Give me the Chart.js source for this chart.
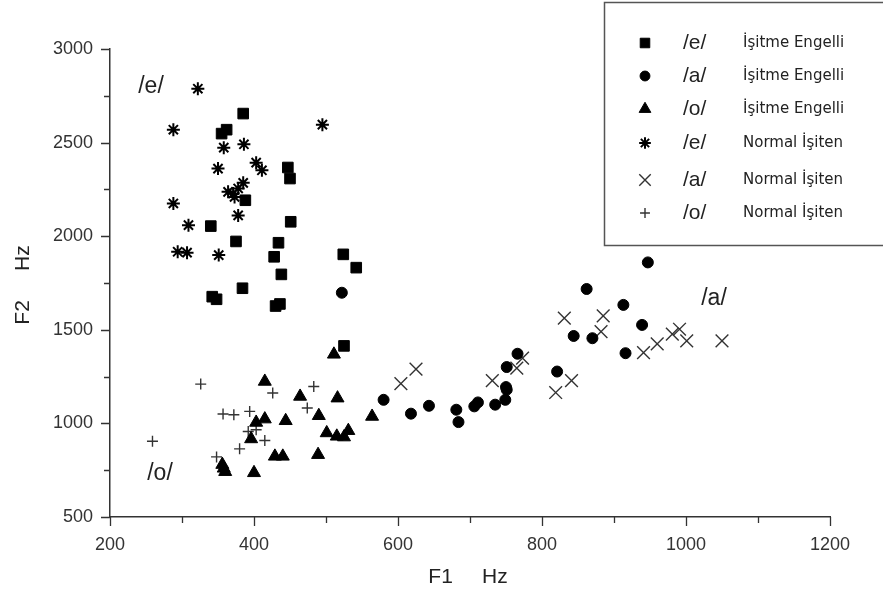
<!DOCTYPE html>
<html>
<head>
<meta charset="utf-8">
<script src="https://cdn.jsdelivr.net/npm/chart.js@4/dist/chart.umd.min.js"></script>
<style>
  body { margin: 0; background: #fff; }
  canvas { display: block; }
</style>
</head>
<body>
<canvas id="formantChart" width="883" height="592"></canvas>
<script>
// F1 / F2 (Hz)
const eHI_F1 = [385, 362, 355, 447, 450, 388, 451, 340, 375, 434, 428, 524, 542, 438, 384, 342, 348, 430, 436, 525];
const eHI_F2 = [2655, 2569, 2548, 2367, 2308, 2192, 2077, 2054, 1972, 1965, 1890, 1903, 1832, 1796, 1722, 1677, 1663, 1627, 1638, 1414];

const aHI_F1 = [522, 580, 618, 643, 681, 684, 706, 711, 735, 749, 751, 750, 751, 766, 821, 844, 870, 862, 913, 939, 916, 947];
const aHI_F2 = [1698, 1126, 1052, 1094, 1073, 1007, 1091, 1112, 1100, 1126, 1180, 1194, 1301, 1372, 1277, 1467, 1455, 1718, 1633, 1526, 1375, 1860];

const oHI_F1 = [511, 415, 464, 516, 564, 490, 444, 415, 403, 396, 501, 515, 525, 531, 429, 440, 489, 356, 358, 360, 400];
const oHI_F2 = [1369, 1224, 1144, 1135, 1037, 1041, 1014, 1023, 1005, 917, 949, 931, 927, 961, 824, 824, 833, 780, 760, 742, 736];

const eNH_F1 = [322, 288, 495, 358, 386, 350, 403, 411, 385, 364, 371, 378, 373, 288, 378, 309, 294, 307, 351];
const eNH_F2 = [2788, 2569, 2596, 2473, 2491, 2361, 2393, 2352, 2285, 2237, 2228, 2255, 2210, 2175, 2111, 2059, 1917, 1912, 1899];

const aNH_F1 = [604, 625, 731, 765, 773, 819, 841, 831, 885, 882, 941, 960, 981, 991, 1001, 1050];
const aNH_F2 = [1212, 1290, 1229, 1295, 1349, 1165, 1229, 1562, 1574, 1490, 1378, 1425, 1477, 1503, 1441, 1441];

const oNH_F1 = [259, 326, 426, 483, 474, 357, 372, 394, 392, 403, 415, 380, 348];
const oNH_F2 = [905, 1210, 1162, 1197, 1082, 1050, 1046, 1064, 957, 966, 909, 864, 821];

const vowels = ['/e/', '/a/', '/o/', '/e/', '/a/', '/o/'];
const groups = ['İşitme Engelli', 'İşitme Engelli', 'İşitme Engelli', 'Normal İşiten', 'Normal İşiten', 'Normal İşiten'];

const xTicks = [200, 400, 600, 800, 1000, 1200];
const yTicks = [500, 1000, 1500, 2000, 2500, 3000];

const toPoints = (xs, ys) => xs.map((x, i) => ({ x: x, y: ys[i] }));

const axisColor = '#333';
const tickFont = { family: '"Liberation Sans", Arial, sans-serif', size: 18 };

// puntos de cada serie
const markerStyles = [
    { pointStyle: 'rect', radius: 7.5, borderWidth: 1, color: '#000' },
    { pointStyle: 'circle', radius: 5.5, borderWidth: 1, color: '#000' },
    { pointStyle: 'triangle', radius: 7.5, borderWidth: 1, color: '#000' },
    { pointStyle: 'star', radius: 6.5, borderWidth: 2, color: '#000' },
    { pointStyle: 'crossRot', radius: 9, borderWidth: 1.4, color: '#333' },
    { pointStyle: 'cross', radius: 5.5, borderWidth: 1.4, color: '#333' }
];

const seriesData = [
    toPoints(eHI_F1, eHI_F2),
    toPoints(aHI_F1, aHI_F2),
    toPoints(oHI_F1, oHI_F2),
    toPoints(eNH_F1, eNH_F2),
    toPoints(aNH_F1, aNH_F2),
    toPoints(oNH_F1, oNH_F2)
];

const datasets = seriesData.map((data, i) => ({
    label: vowels[i] + ' ' + groups[i],
    data: data,
    pointStyle: markerStyles[i].pointStyle,
    pointRadius: markerStyles[i].radius,
    pointBorderWidth: markerStyles[i].borderWidth,
    backgroundColor: markerStyles[i].color,
    borderColor: markerStyles[i].color
}));

// ticks mayores y menores hacia afuera
const axisTicksPlugin = {
    id: 'axisTicks',
    afterDraw(chart) {
        const ctx = chart.ctx;
        const xs = chart.scales.x;
        const ys = chart.scales.y;
        ctx.save();
        ctx.strokeStyle = axisColor;
        ctx.lineWidth = 1.3;
        ctx.beginPath();
        for (let v = 500; v <= 3000; v += 250) {
            const py = Math.round(ys.getPixelForValue(v)) + 0.5;
            const len = v % 500 === 0 ? 9 : 6;
            ctx.moveTo(ys.right - len, py);
            ctx.lineTo(ys.right, py);
        }
        for (let v = 200; v <= 1200; v += 100) {
            const px = Math.round(xs.getPixelForValue(v)) + 0.5;
            const len = v % 200 === 0 ? 9 : 6;
            ctx.moveTo(px, xs.top);
            ctx.lineTo(px, xs.top + len);
        }
        ctx.stroke();
        ctx.restore();
    }
};

// títulos de ejes y etiquetas de vocales
const labelsPlugin = {
    id: 'vowelLabels',
    afterDraw(chart) {
        const ctx = chart.ctx;
        ctx.save();
        ctx.fillStyle = '#222';
        ctx.textAlign = 'center';
        ctx.textBaseline = 'middle';
        ctx.font = '23px "Liberation Sans"';
        ctx.fillText('/e/', 151, 87);
        ctx.fillText('/o/', 160, 474);
        ctx.fillText('/a/', 714, 299);

        ctx.font = '21px "Liberation Sans"';
        ctx.fillText('F1     Hz', 468, 577);
        ctx.translate(23, 285);
        ctx.rotate(-Math.PI / 2);
        ctx.fillText('F2     Hz', 0, 0);
        ctx.restore();
    }
};

// leyenda en recuadro
const boxLegendPlugin = {
    id: 'boxLegend',
    afterDraw(chart) {
        const ctx = chart.ctx;
        ctx.save();
        ctx.strokeStyle = '#555';
        ctx.lineWidth = 1.5;
        ctx.strokeRect(604.5, 2.5, 290, 243);
        const rowY = [43, 76, 109, 143, 180, 213];
        rowY.forEach((y, i) => {
            const m = markerStyles[i];
            ctx.fillStyle = m.color;
            ctx.strokeStyle = m.color;
            ctx.lineWidth = m.borderWidth;
            Chart.helpers.drawPoint(ctx, {
                pointStyle: m.pointStyle,
                radius: m.radius * 0.9,
                rotation: 0,
                borderWidth: m.borderWidth
            }, 645, y);
            ctx.fillStyle = '#222';
            ctx.textAlign = 'left';
            ctx.textBaseline = 'middle';
            ctx.font = '21px "Liberation Sans"';
            ctx.fillText(vowels[i], 683, y);
            ctx.font = '15px "DejaVu Sans"';
            ctx.fillText(groups[i], 743, y);
        });
        ctx.restore();
    }
};

new Chart(document.getElementById('formantChart'), {
    type: 'scatter',
    data: { datasets: datasets },
    plugins: [axisTicksPlugin, labelsPlugin, boxLegendPlugin],
    options: {
        responsive: false,
        animation: false,
        layout: { padding: { left: 0, top: 49, right: 53, bottom: 0 } },
        plugins: {
            legend: { display: false },
            tooltip: { enabled: false }
        },
        scales: {
            x: {
                type: 'linear',
                min: 200,
                max: 1200,
                afterFit: (scale) => { scale.height = 75; },
                afterBuildTicks: (scale) => { scale.ticks = xTicks.map(v => ({ value: v })); },
                grid: { display: false, drawTicks: false },
                border: { display: true, color: axisColor, width: 1.5 },
                ticks: { color: axisColor, font: tickFont, padding: 17, maxRotation: 0, callback: (v) => String(v) }
            },
            y: {
                type: 'linear',
                min: 500,
                max: 3000,
                afterFit: (scale) => { scale.width = 110; },
                afterBuildTicks: (scale) => { scale.ticks = yTicks.map(v => ({ value: v })); },
                grid: { display: false, drawTicks: false },
                border: { display: true, color: axisColor, width: 1.5 },
                ticks: { color: axisColor, font: tickFont, padding: 17, callback: (v) => String(v) }
            }
        }
    }
});
</script>
</body>
</html>
